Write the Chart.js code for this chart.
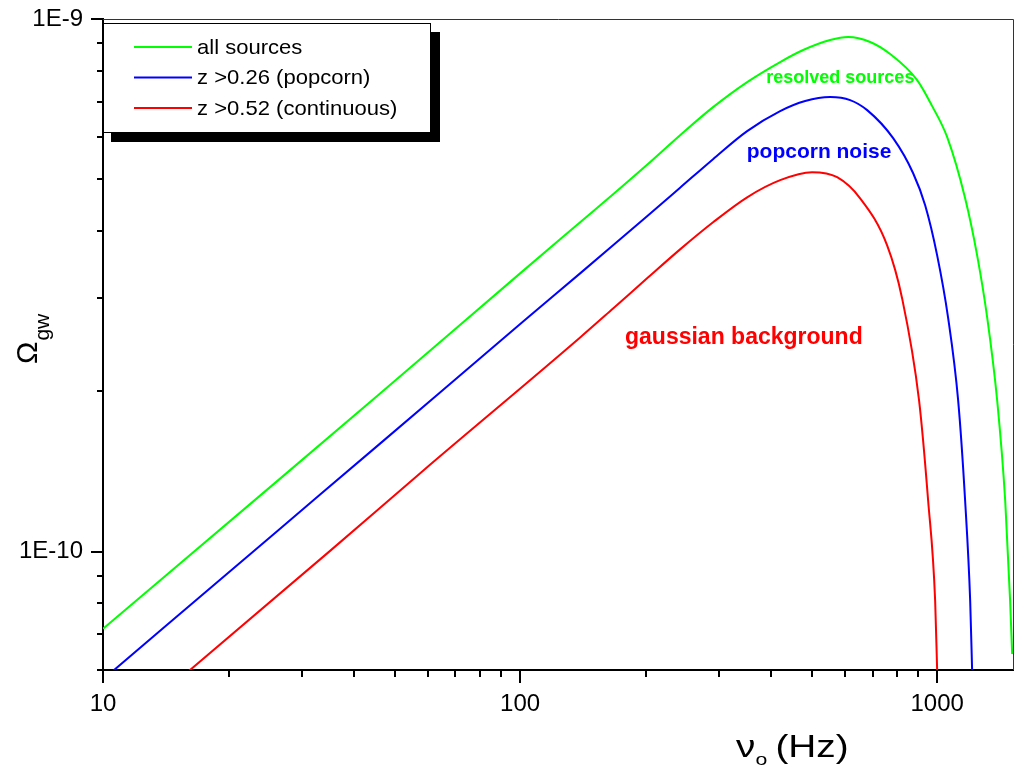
<!DOCTYPE html>
<html>
<head>
<meta charset="utf-8">
<script src="https://cdn.jsdelivr.net/npm/chart.js@4"></script>
<style>
  body { margin: 0; background: #fff; }
  canvas { display: block; }
</style>
</head>
<body>
<canvas id="omegaChart" width="1018" height="766"></canvas>
<script>
// values (frequency in Hz, Omega_gw)
var allFreq  = [10, 26.58, 46.16, 100, 139.3, 167.1, 201.6, 241.9, 290.2, 350.3, 420.3, 477.2, 553.8, 611.7, 690.9, 771.4, 895.4, 972.8, 1057, 1167, 1247, 1318, 1393, 1456, 1496, 1513];
var allOmega = [7.17e-11, 1.372e-10, 1.982e-10, 3.331e-10, 4.154e-10, 4.689e-10, 5.327e-10, 6.052e-10, 6.832e-10, 7.614e-10, 8.303e-10, 8.745e-10, 9.131e-10, 9.251e-10, 9.053e-10, 8.595e-10, 7.68e-10, 6.862e-10, 6.0e-10, 4.608e-10, 3.601e-10, 2.754e-10, 1.922e-10, 1.247e-10, 8.09e-11, 6.43e-11];

var popFreq  = [10, 26.58, 46.16, 101.7, 139.3, 167.1, 201.6, 241.9, 290.2, 350.3, 420.3, 482.5, 553.8, 618.5, 679.5, 784.3, 875.9, 935.9, 1000, 1062, 1123, 1167, 1200, 1213];
var popOmega = [5.76e-11, 1.105e-10, 1.596e-10, 2.705e-10, 3.331e-10, 3.76e-10, 4.263e-10, 4.823e-10, 5.457e-10, 6.159e-10, 6.715e-10, 7.014e-10, 7.136e-10, 7.044e-10, 6.745e-10, 5.975e-10, 5.135e-10, 4.472e-10, 3.601e-10, 2.754e-10, 1.922e-10, 1.247e-10, 8.09e-11, 5.975e-11];

var contFreq  = [10, 35.03, 58.54, 139.3, 167.1, 201.6, 241.9, 290.2, 350.3, 420.3, 501.3, 575.7, 653.6, 758.7, 824.2, 905.1, 951.5, 989.0, 1000];
var contOmega = [4.36e-11, 1.004e-10, 1.42e-10, 2.525e-10, 2.862e-10, 3.26e-10, 3.695e-10, 4.154e-10, 4.628e-10, 4.983e-10, 5.157e-10, 5.047e-10, 4.608e-10, 3.76e-10, 2.989e-10, 1.922e-10, 1.247e-10, 8.09e-11, 5.975e-11];

var seriesLabels = ['all sources', 'z >0.26 (popcorn)', 'z >0.52 (continuous)'];
var seriesColors = ['#00ff00', '#0000ff', '#ff0000'];

var xTicks = [10, 20, 30, 40, 50, 60, 70, 80, 90, 100, 200, 300, 400, 500, 600, 700, 800, 900, 1000];
var xTickLabels = { 10: '10', 100: '100', 1000: '1000' };
var yTicks = [6e-11, 7e-11, 8e-11, 9e-11, 1e-10, 2e-10, 3e-10, 4e-10, 5e-10, 6e-10, 7e-10, 8e-10, 9e-10, 1e-9];
var yTickLabels = ['', '', '', '', '1E-10', '', '', '', '', '', '', '', '', '1E-9'];

// in-plot notes, placed in data units
var notes = [
  { text: 'resolved sources', f: 586, w: 7.75e-10, color: '#00ff00', size: 18 },
  { text: 'popcorn noise', f: 521, w: 5.62e-10, color: '#0000ff', size: 21 },
  { text: 'gaussian background', f: 344, w: 2.525e-10, color: '#ff0000', size: 23 }
];

var FONT = '"Liberation Sans", Arial, sans-serif';

function pairs(xs, ys) {
  return xs.map(function(x, i) { return { x: x, y: ys[i] }; });
}

var decor = {
  id: 'decor',
  afterDraw: function(chart) {
    var ctx = chart.ctx;
    var a = chart.chartArea;
    var xs = chart.scales.x, ys = chart.scales.y;
    ctx.save();

    // thin frame on top and right
    ctx.strokeStyle = '#333';
    ctx.lineWidth = 1;
    ctx.beginPath();
    ctx.moveTo(a.left, a.top + 0.5);
    ctx.lineTo(a.right + 0.5, a.top + 0.5);
    ctx.lineTo(a.right + 0.5, a.bottom);
    ctx.stroke();

    // tick marks, outward
    ctx.strokeStyle = '#000';
    ctx.lineWidth = 2;
    xTicks.forEach(function(v) {
      var px = Math.round(xs.getPixelForValue(v));
      var len = xTickLabels[v] ? 13 : 7;
      ctx.beginPath();
      ctx.moveTo(px, a.bottom);
      ctx.lineTo(px, a.bottom + len);
      ctx.stroke();
    });
    yTicks.forEach(function(v, i) {
      var py = Math.round(ys.getPixelForValue(v));
      var len = yTickLabels[i] ? 12 : 6;
      ctx.beginPath();
      ctx.moveTo(a.left, py);
      ctx.lineTo(a.left - len, py);
      ctx.stroke();
    });

    // legend box with drop shadow
    var bx = 103, by = 23, bw = 327, bh = 109;
    ctx.fillStyle = '#000';
    ctx.fillRect(bx + 8, by + 9, bw + 2, bh + 1);
    ctx.fillStyle = '#fff';
    ctx.fillRect(bx, by, bw, bh);
    ctx.strokeStyle = '#000';
    ctx.lineWidth = 1;
    ctx.strokeRect(bx + 0.5, by + 0.5, bw, bh);
    ctx.font = '21px ' + FONT;
    ctx.textBaseline = 'middle';
    ctx.textAlign = 'left';
    chart.data.datasets.forEach(function(ds, i) {
      var ly = 47 + i * 30.5;
      ctx.strokeStyle = ds.borderColor;
      ctx.lineWidth = 2;
      ctx.beginPath();
      ctx.moveTo(134, ly);
      ctx.lineTo(192, ly);
      ctx.stroke();
      ctx.fillStyle = '#000';
      ctx.save();
      ctx.translate(197, ly + 1);
      ctx.scale(1.05, 1);
      ctx.fillText(ds.label, 0, 0);
      ctx.restore();
    });

    // notes
    ctx.textAlign = 'center';
    notes.forEach(function(n) {
      ctx.font = 'bold ' + n.size + 'px ' + FONT;
      ctx.fillStyle = n.color;
      ctx.fillText(n.text, xs.getPixelForValue(n.f), ys.getPixelForValue(n.w));
    });

    // axis titles
    ctx.fillStyle = '#000';
    ctx.textAlign = 'left';
    ctx.textBaseline = 'alphabetic';
    ctx.save();
    ctx.translate(37, 364);
    ctx.rotate(-Math.PI / 2);
    ctx.font = '30px ' + FONT;
    ctx.fillText('\u03A9', 0, 0);
    var ow = ctx.measureText('\u03A9').width;
    ctx.font = '21px ' + FONT;
    ctx.fillText('gw', ow + 1, 12);
    ctx.restore();

    ctx.save();
    ctx.translate(736, 757);
    ctx.scale(1.25, 1);
    ctx.font = '31px ' + FONT;
    ctx.fillText('\u03BD', 0, 0);
    var nw = ctx.measureText('\u03BD').width;
    ctx.font = '17px ' + FONT;
    ctx.fillText('o', nw, 8);
    ctx.font = '31px ' + FONT;
    ctx.fillText('(Hz)', nw + 16, 0);
    ctx.restore();

    ctx.restore();
  }
};

var datasets = [
  pairs(allFreq, allOmega),
  pairs(popFreq, popOmega),
  pairs(contFreq, contOmega)
].map(function(d, i) {
  return {
    label: seriesLabels[i],
    data: d,
    borderColor: seriesColors[i],
    borderWidth: 2,
    pointRadius: 0,
    fill: false,
    cubicInterpolationMode: 'monotone'
  };
});

function noPad(s) {
  s.paddingTop = 0;
  s.paddingBottom = 0;
  s.paddingLeft = 0;
  s.paddingRight = 0;
}

new Chart(document.getElementById('omegaChart'), {
  type: 'line',
  data: { datasets: datasets },
  options: {
    responsive: false,
    animation: false,
    layout: { padding: { top: 19, right: 5, left: 0, bottom: 0 } },
    plugins: { legend: { display: false }, tooltip: { enabled: false } },
    scales: {
      x: {
        type: 'logarithmic',
        min: 10,
        max: 1520,
        afterBuildTicks: function(s) { s.ticks = xTicks.map(function(v) { return { value: v }; }); },
        afterFit: function(s) { s.height = 96; noPad(s); },
        grid: { display: false, drawTicks: false },
        border: { color: '#000', width: 2 },
        ticks: {
          autoSkip: false,
          maxRotation: 0,
          padding: 20,
          color: '#000',
          font: { family: FONT, size: 24 },
          callback: function(v) { return xTickLabels[v] || ''; }
        }
      },
      y: {
        type: 'logarithmic',
        min: 6e-11,
        max: 1e-9,
        afterBuildTicks: function(s) { s.ticks = yTicks.map(function(v) { return { value: v }; }); },
        afterFit: function(s) { s.width = 103; noPad(s); },
        grid: { display: false, drawTicks: false },
        border: { color: '#000', width: 2 },
        ticks: {
          autoSkip: false,
          padding: 20,
          color: '#000',
          font: { family: FONT, size: 24 },
          callback: function(v, i) { return yTickLabels[i]; }
        }
      }
    }
  },
  plugins: [decor]
});
</script>
</body>
</html>
